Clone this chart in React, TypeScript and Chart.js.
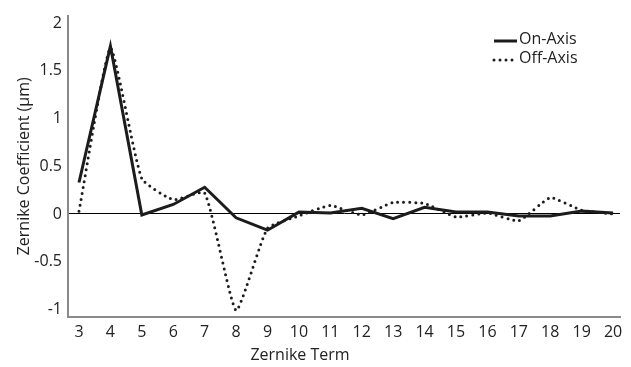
import { useEffect, useRef } from "react";
import { Chart, registerables } from "chart.js";

Chart.register(...registerables);

const terms = [3, 4, 5, 6, 7, 8, 9, 10, 11, 12, 13, 14, 15, 16, 17, 18, 19, 20];
const onAxis = [0.33, 1.76, -0.01, 0.1, 0.28, -0.04, -0.17, 0.02, 0.01, 0.06, -0.05, 0.07, 0.02, 0.02, -0.02, -0.02, 0.03, 0.01];
const offAxis = [0.03, 1.74, 0.37, 0.15, 0.22, -1.01, -0.15, -0.02, 0.09, -0.01, 0.12, 0.11, -0.03, 0.01, -0.07, 0.17, 0.04, 0.0];
const yTickValues = [-1, -0.5, 0, 0.5, 1, 1.5, 2];
const seriesNames = ["On-Axis", "Off-Axis"];
const xTitle = "Zernike Term";
const yTitle = "Zernike Coefficient (\u03bcm)";

const FONT = "'Open Sans', sans-serif";
const FS = 16;
const TEXT = "#222222";
const LINE = "#1c1c1c";
const AXIS = "#8a8a8a";

export default function App() {
  const ref = useRef<HTMLCanvasElement>(null);

  useEffect(() => {
    if (!ref.current) return;
    const overlay = {
      id: "overlay",
      afterDraw(chart: any) {
        const ctx = chart.ctx;
        ctx.save();
        ctx.font = `${FS}px ${FONT}`;
        ctx.fillStyle = TEXT;
        ctx.textBaseline = "middle";
        chart.data.datasets.forEach((ds: any, i: number) => {
          const y = 40 + i * 19;
          ctx.beginPath();
          ctx.strokeStyle = ds.borderColor;
          ctx.lineWidth = ds.borderWidth;
          ctx.setLineDash(ds.borderDash || []);
          ctx.lineCap = ds.borderCapStyle || "butt";
          ctx.moveTo(494, y + 1);
          ctx.lineTo(517, y + 1);
          ctx.stroke();
          ctx.setLineDash([]);
          ctx.textAlign = "left";
          ctx.fillText(ds.label, 519, y - 1);
        });
        ctx.textAlign = "center";
        ctx.fillText(xTitle, 300, 355);
        ctx.restore();
      },
    };

    const chart = new Chart(ref.current, {
      type: "line",
      data: {
        datasets: [
          {
            label: seriesNames[0],
            data: terms.map((t, i) => ({ x: t, y: onAxis[i] })),
            borderColor: LINE,
            borderWidth: 3,
            pointRadius: 0,
            tension: 0,
            borderJoinStyle: "miter",
          },
          {
            label: seriesNames[1],
            data: terms.map((t, i) => ({ x: t, y: offAxis[i] })),
            borderColor: LINE,
            borderWidth: 3,
            borderDash: [0, 6],
            borderCapStyle: "round",
            pointRadius: 0,
            tension: 0.15,
          },
        ],
      } as any,
      options: {
        responsive: false,
        animation: false,
        layout: { padding: { top: 7, right: 11, left: 0, bottom: 0 } },
        plugins: { legend: { display: false }, tooltip: { enabled: false } },
        scales: {
          x: {
            type: "linear",
            min: 2.65,
            max: 20.22,
            afterBuildTicks: (s: any) => {
              s.ticks = terms.map((v) => ({ value: v }));
            },
            afterFit: (s: any) => {
              s.height = 50;
            },
            grid: { display: false, drawTicks: false },
            border: { display: true, color: AXIS, width: 2 },
            ticks: {
              font: { family: FONT, size: FS },
              color: TEXT,
              padding: 6,
              maxRotation: 0,
              autoSkip: false,
              callback: (v: any) => String(v),
            },
          },
          y: {
            min: -1.08,
            max: 2.08,
            afterBuildTicks: (s: any) => {
              s.ticks = yTickValues.map((v) => ({ value: v }));
            },
            afterFit: (s: any) => {
              s.width = 68;
            },
            grid: {
              drawTicks: false,
              color: (c: any) => (c.tick && c.tick.value === 0 ? "#000000" : "rgba(0,0,0,0)"),
              lineWidth: 1,
            },
            border: { display: true, color: AXIS, width: 2 },
            title: {
              display: true,
              text: yTitle,
              font: { family: FONT, size: FS },
              color: TEXT,
              padding: { top: 15, bottom: 0 },
            },
            ticks: {
              font: { family: FONT, size: FS },
              color: TEXT,
              padding: 6,
              callback: (v: any) => String(v),
            },
          },
        },
      } as any,
      plugins: [overlay],
    });
    return () => chart.destroy();
  }, []);

  return (
    <div style={{ position: "fixed", left: 0, top: 0, width: 631, height: 367, background: "#fff" }}>
      <canvas ref={ref} width={631} height={367} />
    </div>
  );
}
